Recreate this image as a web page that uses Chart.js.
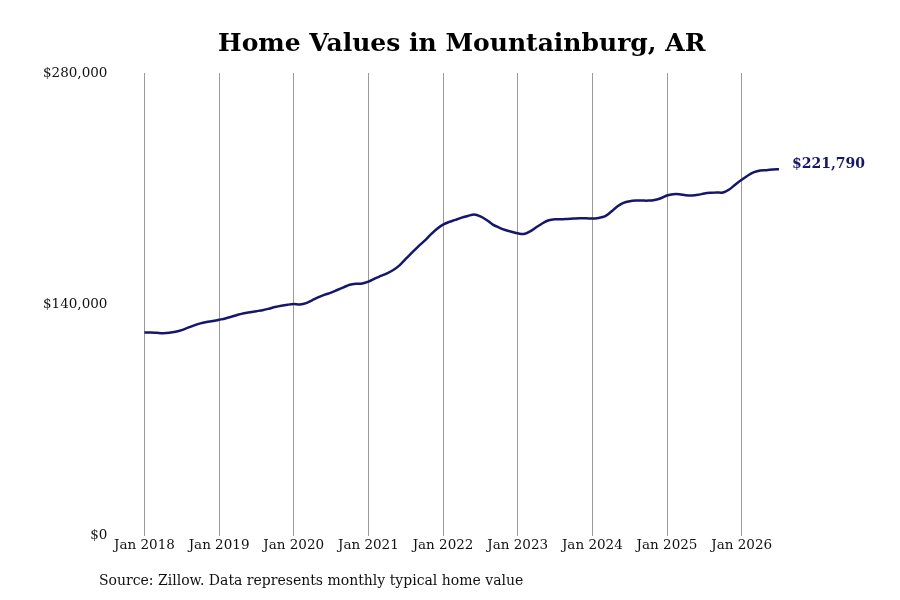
<!DOCTYPE html>
<html>
<head>
<meta charset="utf-8">
<script src="https://cdn.jsdelivr.net/npm/chart.js@4"></script>
<style>
    html, body { margin: 0; padding: 0; background: #fff; }
    #wrap { width: 900px; height: 600px; position: relative; }
</style>
</head>
<body>
<div id="wrap"><canvas id="homeValueChart"></canvas></div>
<script>
// Monthly typical home value (Zillow), Jan 2018 - Jul 2026
const startYear = 2018;
const values2018 = [123000, 123000, 122800, 122600, 122800, 123400, 124400, 125900, 127300, 128500, 129300, 129900];
const values2019 = [130700, 131500, 132500, 133700, 134700, 135300, 135900, 136500, 137400, 138400, 139200, 139800];
const values2020 = [140200, 140000, 140800, 142600, 144400, 145900, 147100, 148700, 150300, 151900, 152500, 152700];
const values2021 = [153800, 155600, 157200, 158800, 160800, 163600, 167500, 171300, 175000, 178400, 182200, 185600];
const values2022 = [188300, 189900, 191100, 192500, 193500, 194400, 193300, 191100, 188300, 186500, 185000, 184000];
const values2023 = [183000, 182600, 184200, 186700, 189100, 190900, 191500, 191500, 191700, 191900, 192100, 192100];
const values2024 = [191900, 192300, 193200, 196000, 199200, 201400, 202400, 202800, 202800, 202800, 203200, 204200];
const values2025 = [205900, 206700, 206700, 206100, 205900, 206300, 207100, 207500, 207700, 207700, 209500, 212600];
const values2026 = [215400, 218000, 220000, 221000, 221200, 221600, 221790];

const monthNames = ['Jan', 'Feb', 'Mar', 'Apr', 'May', 'Jun', 'Jul', 'Aug', 'Sep', 'Oct', 'Nov', 'Dec'];
const yTicks = [0, 140000, 280000];

const homeValues = [].concat(values2018, values2019, values2020, values2021, values2022,
    values2023, values2024, values2025, values2026);

// one label per month, e.g. "Jan 2018"
const labels = homeValues.map((v, i) => monthNames[i % 12] + ' ' + (startYear + Math.floor(i / 12)));

const lineColor = '#16166a';
const fontFamily = "'DejaVu Serif', serif";

const formatDollar = v => '$' + Math.round(v).toLocaleString('en-US');
const isJanuary = i => i % 12 === 0;

// last value written next to the end of the line
const endLabelPlugin = {
    id: 'endLabel',
    afterDatasetsDraw(chart) {
        const meta = chart.getDatasetMeta(0);
        const last = meta.data[meta.data.length - 1];
        const ctx = chart.ctx;
        ctx.save();
        ctx.font = "bold 14px " + fontFamily;
        ctx.fillStyle = lineColor;
        ctx.textAlign = 'left';
        ctx.textBaseline = 'middle';
        ctx.fillText(formatDollar(homeValues[homeValues.length - 1]), last.x + 13, last.y - 5);
        ctx.restore();
    }
};

// source note under the axis
const sourcePlugin = {
    id: 'sourceNote',
    afterDraw(chart) {
        const ctx = chart.ctx;
        ctx.save();
        ctx.font = "14px " + fontFamily;
        ctx.fillStyle = '#111';
        ctx.textAlign = 'left';
        ctx.textBaseline = 'middle';
        ctx.fillText('Source: Zillow. Data represents monthly typical home value', 99, 581);
        ctx.restore();
    }
};

const ctx = document.getElementById('homeValueChart').getContext('2d');

new Chart(ctx, {
    type: 'line',
    data: {
        labels: labels,
        datasets: [{
            label: 'Typical home value',
            data: homeValues,
            borderColor: lineColor,
            borderWidth: 2.5,
            pointRadius: 0,
            tension: 0.3,
            fill: false
        }]
    },
    options: {
        responsive: true,
        maintainAspectRatio: false,
        animation: false,
        layout: {
            padding: { left: 14, right: 121, top: 29, bottom: 44 }
        },
        plugins: {
            legend: { display: false },
            tooltip: { enabled: false },
            title: {
                display: true,
                text: 'Home Values in Mountainburg, AR',
                fullSize: false,
                color: '#000',
                font: { family: fontFamily, size: 25, weight: 'bold' },
                padding: { top: 0, bottom: 14 }
            }
        },
        scales: {
            x: {
                type: 'category',
                offset: false,
                border: { display: false },
                grid: {
                    drawTicks: false,
                    lineWidth: 1,
                    color: c => (c.tick && isJanuary(c.tick.value)) ? '#9a9a9a' : 'rgba(0,0,0,0)'
                },
                ticks: {
                    autoSkip: false,
                    maxRotation: 0,
                    padding: 2,
                    color: '#111',
                    font: { family: fontFamily, size: 13.5 },
                    callback: function (value) {
                        return isJanuary(value) ? labels[value] : null;
                    }
                }
            },
            y: {
                min: 0,
                max: 280000,
                border: { display: false },
                grid: { display: false },
                afterBuildTicks: axis => { axis.ticks = yTicks.map(v => ({ value: v })); },
                ticks: {
                    padding: 29,
                    color: '#111',
                    font: { family: fontFamily, size: 13.5 },
                    callback: v => formatDollar(v)
                }
            }
        }
    },
    plugins: [endLabelPlugin, sourcePlugin]
});
</script>
</body>
</html>
